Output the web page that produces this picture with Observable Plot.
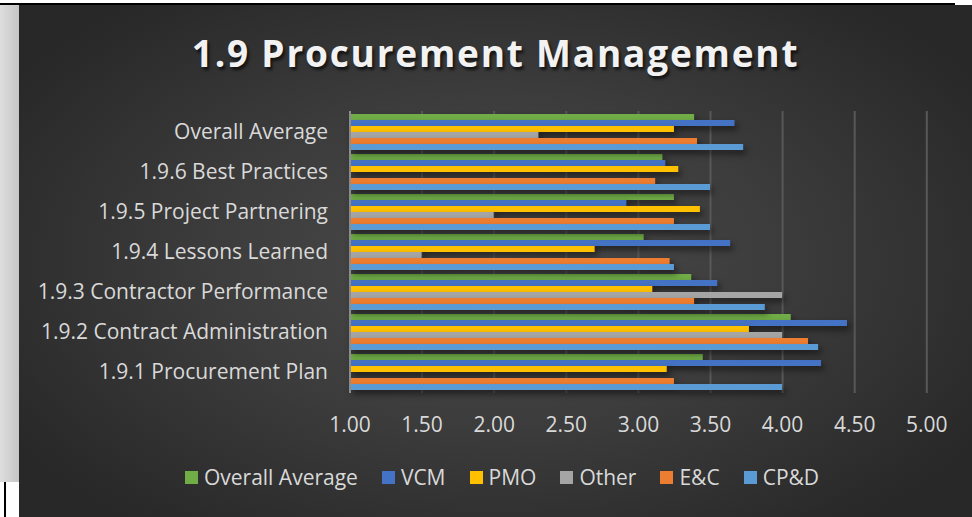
<!DOCTYPE html>
<html>
<head>
<meta charset="utf-8">
<script src="https://cdn.jsdelivr.net/npm/d3@7"></script>
<script src="https://cdn.jsdelivr.net/npm/@observablehq/plot@0.6"></script>
<style>
  html, body { margin: 0; padding: 0; background: #ffffff; }
  #page { position: relative; width: 972px; height: 517px; overflow: hidden; background: #ffffff; font-family: "Open Sans", sans-serif; }
  #topline { position: absolute; left: 0; top: 3px; width: 955px; height: 2px; background: #000; }
  #strip { position: absolute; left: 0; top: 5px; width: 19px; height: 477px; background: linear-gradient(to right, #dedede, #c6c6c6); }
  #vline { position: absolute; left: 4px; top: 482px; width: 2px; height: 35px; background: #000; }
  #panel { position: absolute; left: 19px; top: 5px; width: 953px; height: 512px;
    background: radial-gradient(ellipse 60% 65% at 50% 50%, #4b4b4b 0%, #3c3c3c 50%, #282828 100%); }
  #title { position: absolute; left: 19px; width: 953px; top: 34px; text-align: center; color: #f2f2f2;
    font-family: "Open Sans", sans-serif; font-weight: 700; font-size: 37px; line-height: 37px; letter-spacing: 1.8px;
    text-shadow: 2px 3px 3px rgba(0,0,0,0.65); }
  #chart { position: absolute; left: 0; top: 100px; }
  #chart g[aria-label="bar"] { filter: drop-shadow(3px 4px 3px rgba(0,0,0,0.5)); }
  #legend { position: absolute; left: 0; width: 1004px; top: 463px; display: flex; justify-content: center; gap: 24px;
    color: #d9d9d9; font-size: 21px; }
  .item { display: flex; align-items: center; gap: 6px; }
  .sw { width: 13px; height: 13px; display: inline-block; }
</style>
</head>
<body>
<div id="page">
  <div id="panel"></div>
  <div id="strip"></div>
  <div id="topline"></div>
  <div id="vline"></div>
  <div id="title">1.9 Procurement Management</div>
  <div id="chart"></div>
  <div id="legend"></div>
</div>
<script>
const categories = ["Overall Average", "1.9.6 Best Practices", "1.9.5 Project Partnering", "1.9.4 Lessons Learned",
  "1.9.3 Contractor Performance", "1.9.2 Contract Administration", "1.9.1 Procurement Plan"];
const series = ["Overall Average", "VCM", "PMO", "Other", "E&C", "CP&D"];
const colors = ["#70ad47", "#4472c4", "#ffc000", "#a5a5a5", "#ed7d31", "#5b9bd5"];
const overallAverage = [3.39, 3.17, 3.25, 3.04, 3.37, 4.06, 3.45];
const vcm = [3.67, 3.19, 2.92, 3.64, 3.55, 4.45, 4.27];
const pmo = [3.25, 3.28, 3.43, 2.70, 3.10, 3.77, 3.20];
const other = [2.31, null, 2.00, 1.50, 4.00, 4.00, null];
const ec = [3.41, 3.12, 3.25, 3.22, 3.39, 4.18, 3.25];
const cpd = [3.73, 3.50, 3.50, 3.25, 3.88, 4.25, 4.00];
const xTicks = [1, 1.5, 2, 2.5, 3, 3.5, 4, 4.5, 5];

const seriesValues = [overallAverage, vcm, pmo, other, ec, cpd];
const rows = [];
series.forEach((s, si) => categories.forEach((c, ci) => {
  const v = seriesValues[si][ci];
  if (v != null) rows.push({series: s, category: c, value: v, si});
}));

const bandwidth = 36, barH = bandwidth / series.length;
const barMarks = series.map((s, si) => Plot.barX(rows.filter(d => d.series === s), {
  y: "category", x1: 1, x2: "value", fill: colors[si],
  insetTop: si * barH, insetBottom: bandwidth - (si + 1) * barH
}));

const chart = Plot.plot({
  width: 972, height: 345,
  marginLeft: 349.5, marginRight: 45.7, marginTop: 11, marginBottom: 52,
  style: {fontFamily: "Open Sans, sans-serif", fontSize: "21px", color: "#d9d9d9", background: "transparent", overflow: "visible"},
  x: {domain: [1, 5], ticks: xTicks, tickFormat: d3.format(".2f"), tickSize: 0, tickPadding: 24, label: null},
  y: {domain: categories, paddingInner: 0.107, paddingOuter: 0.0535, tickSize: 0, tickPadding: 22, label: null},
  marks: [
    Plot.ruleX(xTicks.slice(1), {stroke: "#585858", strokeWidth: 2}),
    ...barMarks,
    Plot.ruleX([1], {stroke: "#8c8c8c", strokeWidth: 2})
  ]
});
document.getElementById("chart").appendChild(chart);

const legend = document.getElementById("legend");
series.forEach((s, i) => {
  const item = document.createElement("div");
  item.className = "item";
  const sw = document.createElement("span");
  sw.className = "sw"; sw.style.background = colors[i];
  const t = document.createElement("span"); t.textContent = s;
  item.appendChild(sw); item.appendChild(t);
  legend.appendChild(item);
});
</script>
</body>
</html>
